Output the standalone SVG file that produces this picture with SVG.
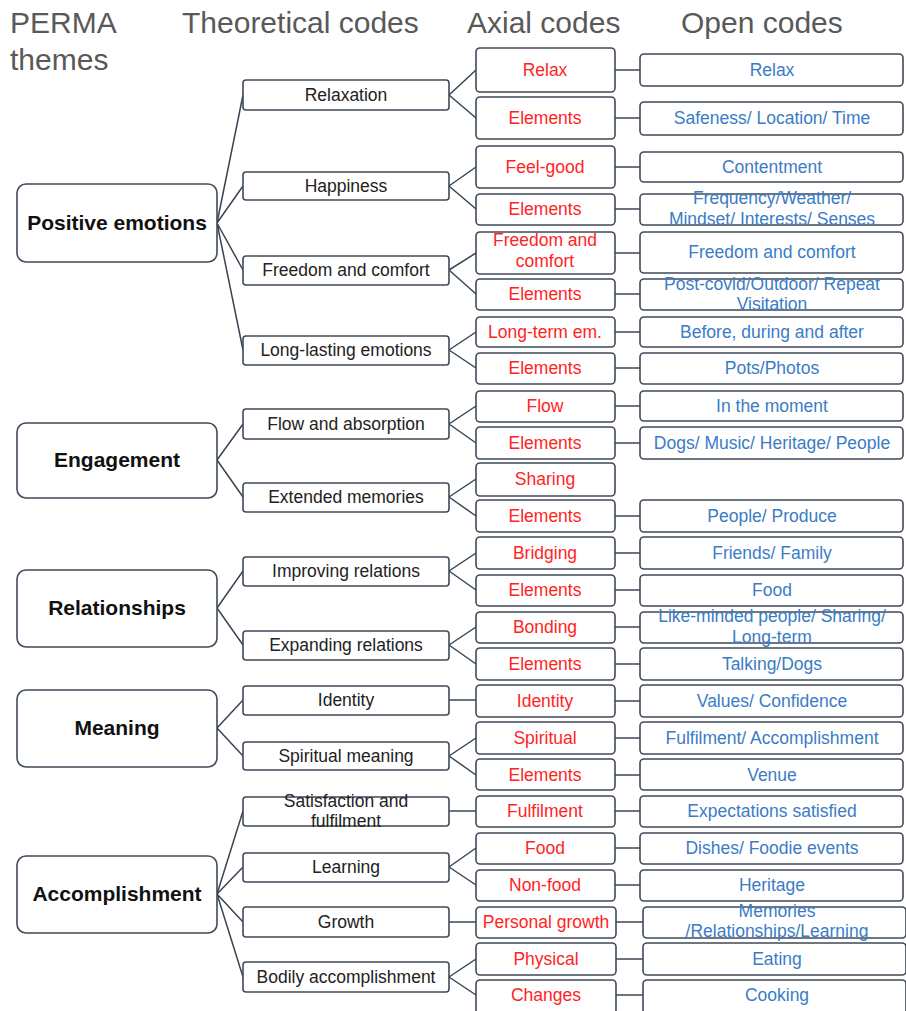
<svg xmlns="http://www.w3.org/2000/svg" width="906" height="1011" viewBox="0 0 906 1011">
<style>
.hd{font-family:"Liberation Sans",Arial,sans-serif;font-size:30px;fill:#595959}
.b{fill:#fff;stroke:#3f4a5a;stroke-width:1.6}
.tb{fill:#fff;stroke:#3f4a5a;stroke-width:1.6}
.th{font-family:"Liberation Sans",Arial,sans-serif;font-size:21px;font-weight:bold;fill:#111;text-anchor:middle}
.t{font-family:"Liberation Sans",Arial,sans-serif;font-size:17.5px;fill:#222;text-anchor:middle}
.a{font-family:"Liberation Sans",Arial,sans-serif;font-size:17.5px;fill:#ff2424;text-anchor:middle}
.o{font-family:"Liberation Sans",Arial,sans-serif;font-size:17.5px;fill:#3a7cc6;text-anchor:middle}
.c1{stroke:#3a4452;stroke-width:1.5;fill:none}
.c2{stroke:#6c7480;stroke-width:2;fill:none}
</style>
<g id="headers">
<text class="hd" x="10" y="33">PERMA</text>
<text class="hd" x="10" y="70">themes</text>
<text class="hd" x="182" y="33">Theoretical codes</text>
<text class="hd" x="467" y="33">Axial codes</text>
<text class="hd" x="681" y="33">Open codes</text>
</g>
<g id="connectors">
<path class="c1" d="M217 223L243 95M217 223L243 186M217 223L243 270M217 223L243 350"/>
<path class="c1" d="M217 460L243 424M217 460L243 497"/>
<path class="c1" d="M217 608L243 571M217 608L243 645"/>
<path class="c1" d="M217 728L243 700M217 728L243 756"/>
<path class="c1" d="M217 894L243 811M217 894L243 867M217 894L243 922M217 894L243 977"/>
<path class="c1" d="M449 95L476 70M449 95L476 118M449 186L476 167M449 186L476 209M449 270L476 253M449 270L476 294M449 350L476 332M449 350L476 368M449 424L476 406M449 424L476 443M449 497L476 479M449 497L476 516M449 571L476 553M449 571L476 590M449 645L476 627M449 645L476 664M449 756L476 738M449 756L476 775M449 867L476 848M449 867L476 885M449 977L476 959M449 977L476 995"/>
<path class="c2" d="M449 700H476M449 811H476M449 922H476"/>
<path class="c2" d="M615 70H640M615 118H640M615 167H640M615 209H640M615 253H640M615 294H640M615 332H640M615 368H640M615 406H640M615 443H640M615 516H640M615 553H640M615 590H640M615 627H640M615 664H640M615 701H640M615 738H640M615 775H640M615 811H640M615 848H640M615 885H640M616 922H643M615 959H643M615 995H643"/>
</g>
<g id="theme-positive"><rect class="tb" x="17" y="184" width="200" height="78" rx="9"/><text class="th" x="117" y="230">Positive emotions</text></g>
<g id="theme-engagement"><rect class="tb" x="17" y="423" width="200" height="75" rx="9"/><text class="th" x="117" y="467">Engagement</text></g>
<g id="theme-relationships"><rect class="tb" x="17" y="570" width="200" height="77" rx="9"/><text class="th" x="117" y="615">Relationships</text></g>
<g id="theme-meaning"><rect class="tb" x="17" y="690" width="200" height="77" rx="9"/><text class="th" x="117" y="735">Meaning</text></g>
<g id="theme-accomplishment"><rect class="tb" x="17" y="856" width="200" height="77" rx="9"/><text class="th" x="117" y="901">Accomplishment</text></g>

<g id="theo-relaxation"><rect class="b" x="243" y="80" width="206" height="30" rx="3"/><text class="t" x="346" y="101">Relaxation</text></g>
<g id="theo-happiness"><rect class="b" x="243" y="172" width="206" height="28" rx="3"/><text class="t" x="346" y="192">Happiness</text></g>
<g id="theo-freedom"><rect class="b" x="243" y="256" width="206" height="29" rx="3"/><text class="t" x="346" y="276">Freedom and comfort</text></g>
<g id="theo-longlasting"><rect class="b" x="243" y="336" width="206" height="29" rx="3"/><text class="t" x="346" y="356">Long-lasting emotions</text></g>
<g id="theo-flow"><rect class="b" x="243" y="409" width="206" height="30" rx="3"/><text class="t" x="346" y="430">Flow and absorption</text></g>
<g id="theo-extended"><rect class="b" x="243" y="483" width="206" height="29" rx="3"/><text class="t" x="346" y="503">Extended memories</text></g>
<g id="theo-improving"><rect class="b" x="243" y="557" width="206" height="29" rx="3"/><text class="t" x="346" y="577">Improving relations</text></g>
<g id="theo-expanding"><rect class="b" x="243" y="631" width="206" height="29" rx="3"/><text class="t" x="346" y="651">Expanding relations</text></g>
<g id="theo-identity"><rect class="b" x="243" y="686" width="206" height="29" rx="3"/><text class="t" x="346" y="706">Identity</text></g>
<g id="theo-spiritual"><rect class="b" x="243" y="742" width="206" height="28" rx="3"/><text class="t" x="346" y="762">Spiritual meaning</text></g>
<g id="theo-satisfaction"><rect class="b" x="243" y="797" width="206" height="29" rx="3"/><text class="t" x="346" y="807">Satisfaction and</text><text class="t" x="346" y="827">fulfilment</text></g>
<g id="theo-learning"><rect class="b" x="243" y="853" width="206" height="29" rx="3"/><text class="t" x="346" y="873">Learning</text></g>
<g id="theo-growth"><rect class="b" x="243" y="907" width="206" height="30" rx="3"/><text class="t" x="346" y="928">Growth</text></g>
<g id="theo-bodily"><rect class="b" x="243" y="962" width="206" height="30" rx="3"/><text class="t" x="346" y="983">Bodily accomplishment</text></g>

<g id="ax-relax"><rect class="b" x="476" y="48" width="139" height="44" rx="4"/><text class="a" x="545" y="76">Relax</text></g>
<g id="ax-el1"><rect class="b" x="476" y="97" width="139" height="42" rx="4"/><text class="a" x="545" y="124">Elements</text></g>
<g id="ax-feelgood"><rect class="b" x="476" y="146" width="139" height="42" rx="4"/><text class="a" x="545" y="173">Feel-good</text></g>
<g id="ax-el2"><rect class="b" x="476" y="194" width="139" height="31" rx="4"/><text class="a" x="545" y="215">Elements</text></g>
<g id="ax-freedom"><rect class="b" x="476" y="232" width="139" height="42" rx="4"/><text class="a" x="545" y="246">Freedom and</text><text class="a" x="545" y="267">comfort</text></g>
<g id="ax-el3"><rect class="b" x="476" y="279" width="139" height="31" rx="4"/><text class="a" x="545" y="300">Elements</text></g>
<g id="ax-longterm"><rect class="b" x="476" y="317" width="139" height="30" rx="4"/><text class="a" x="545" y="338">Long-term em.</text></g>
<g id="ax-el4"><rect class="b" x="476" y="353" width="139" height="31" rx="4"/><text class="a" x="545" y="374">Elements</text></g>
<g id="ax-flow"><rect class="b" x="476" y="391" width="139" height="31" rx="4"/><text class="a" x="545" y="412">Flow</text></g>
<g id="ax-el5"><rect class="b" x="476" y="427" width="139" height="32" rx="4"/><text class="a" x="545" y="449">Elements</text></g>
<g id="ax-sharing"><rect class="b" x="476" y="463" width="139" height="33" rx="4"/><text class="a" x="545" y="485">Sharing</text></g>
<g id="ax-el6"><rect class="b" x="476" y="500" width="139" height="32" rx="4"/><text class="a" x="545" y="522">Elements</text></g>
<g id="ax-bridging"><rect class="b" x="476" y="537" width="139" height="32" rx="4"/><text class="a" x="545" y="559">Bridging</text></g>
<g id="ax-el7"><rect class="b" x="476" y="575" width="139" height="31" rx="4"/><text class="a" x="545" y="596">Elements</text></g>
<g id="ax-bonding"><rect class="b" x="476" y="612" width="139" height="31" rx="4"/><text class="a" x="545" y="633">Bonding</text></g>
<g id="ax-el8"><rect class="b" x="476" y="648" width="139" height="32" rx="4"/><text class="a" x="545" y="670">Elements</text></g>
<g id="ax-identity"><rect class="b" x="476" y="685" width="139" height="32" rx="4"/><text class="a" x="545" y="707">Identity</text></g>
<g id="ax-spiritual"><rect class="b" x="476" y="722" width="139" height="32" rx="4"/><text class="a" x="545" y="744">Spiritual</text></g>
<g id="ax-el9"><rect class="b" x="476" y="759" width="139" height="31" rx="4"/><text class="a" x="545" y="781">Elements</text></g>
<g id="ax-fulfilment"><rect class="b" x="476" y="796" width="139" height="31" rx="4"/><text class="a" x="545" y="817">Fulfilment</text></g>
<g id="ax-food"><rect class="b" x="476" y="833" width="139" height="31" rx="4"/><text class="a" x="545" y="854">Food</text></g>
<g id="ax-nonfood"><rect class="b" x="476" y="870" width="139" height="31" rx="4"/><text class="a" x="545" y="891">Non-food</text></g>
<g id="ax-personal"><rect class="b" x="476" y="907" width="140" height="31" rx="4"/><text class="a" x="546" y="928">Personal growth</text></g>
<g id="ax-physical"><rect class="b" x="476" y="943" width="140" height="32" rx="4"/><text class="a" x="546" y="965">Physical</text></g>
<g id="ax-changes"><rect class="b" x="476" y="980" width="140" height="34" rx="4"/><text class="a" x="546" y="1001">Changes</text></g>

<g id="op-relax"><rect class="b" x="640" y="54" width="263" height="32" rx="4"/><text class="o" x="772" y="76">Relax</text></g>
<g id="op-safeness"><rect class="b" x="640" y="102" width="263" height="33" rx="4"/><text class="o" x="772" y="124">Safeness/ Location/ Time</text></g>
<g id="op-contentment"><rect class="b" x="640" y="152" width="263" height="30" rx="4"/><text class="o" x="772" y="173">Contentment</text></g>
<g id="op-frequency"><rect class="b" x="640" y="194" width="263" height="31" rx="4"/><text class="o" x="772" y="204">Frequency/Weather/</text><text class="o" x="772" y="225">Mindset/ Interests/ Senses</text></g>
<g id="op-freedom"><rect class="b" x="640" y="232" width="263" height="41" rx="4"/><text class="o" x="772" y="258">Freedom and comfort</text></g>
<g id="op-postcovid"><rect class="b" x="640" y="279" width="263" height="31" rx="4"/><text class="o" x="772" y="290">Post-covid/Outdoor/ Repeat</text><text class="o" x="772" y="310">Visitation</text></g>
<g id="op-before"><rect class="b" x="640" y="317" width="263" height="30" rx="4"/><text class="o" x="772" y="338">Before, during and after</text></g>
<g id="op-pots"><rect class="b" x="640" y="353" width="263" height="31" rx="4"/><text class="o" x="772" y="374">Pots/Photos</text></g>
<g id="op-moment"><rect class="b" x="640" y="391" width="263" height="30" rx="4"/><text class="o" x="772" y="412">In the moment</text></g>
<g id="op-dogs"><rect class="b" x="640" y="427" width="263" height="32" rx="4"/><text class="o" x="772" y="449">Dogs/ Music/ Heritage/ People</text></g>
<g id="op-people"><rect class="b" x="640" y="500" width="263" height="32" rx="4"/><text class="o" x="772" y="522">People/ Produce</text></g>
<g id="op-friends"><rect class="b" x="640" y="537" width="263" height="32" rx="4"/><text class="o" x="772" y="559">Friends/ Family</text></g>
<g id="op-food"><rect class="b" x="640" y="575" width="263" height="31" rx="4"/><text class="o" x="772" y="596">Food</text></g>
<g id="op-likeminded"><rect class="b" x="640" y="612" width="263" height="31" rx="4"/><text class="o" x="772" y="622">Like-minded people/ Sharing/</text><text class="o" x="772" y="643">Long-term</text></g>
<g id="op-talking"><rect class="b" x="640" y="648" width="263" height="32" rx="4"/><text class="o" x="772" y="670">Talking/Dogs</text></g>
<g id="op-values"><rect class="b" x="640" y="685" width="263" height="32" rx="4"/><text class="o" x="772" y="707">Values/ Confidence</text></g>
<g id="op-fulfilment"><rect class="b" x="640" y="722" width="263" height="32" rx="4"/><text class="o" x="772" y="744">Fulfilment/ Accomplishment</text></g>
<g id="op-venue"><rect class="b" x="640" y="759" width="263" height="31" rx="4"/><text class="o" x="772" y="781">Venue</text></g>
<g id="op-expectations"><rect class="b" x="640" y="796" width="263" height="31" rx="4"/><text class="o" x="772" y="817">Expectations satisfied</text></g>
<g id="op-dishes"><rect class="b" x="640" y="833" width="263" height="31" rx="4"/><text class="o" x="772" y="854">Dishes/ Foodie events</text></g>
<g id="op-heritage"><rect class="b" x="640" y="870" width="263" height="31" rx="4"/><text class="o" x="772" y="891">Heritage</text></g>
<g id="op-memories"><rect class="b" x="643" y="907" width="263" height="31" rx="4"/><text class="o" x="777" y="917">Memories</text><text class="o" x="777" y="937">/Relationships/Learning</text></g>
<g id="op-eating"><rect class="b" x="643" y="943" width="263" height="32" rx="4"/><text class="o" x="777" y="965">Eating</text></g>
<g id="op-cooking"><rect class="b" x="643" y="980" width="263" height="34" rx="4"/><text class="o" x="777" y="1001">Cooking</text></g>
</svg>
